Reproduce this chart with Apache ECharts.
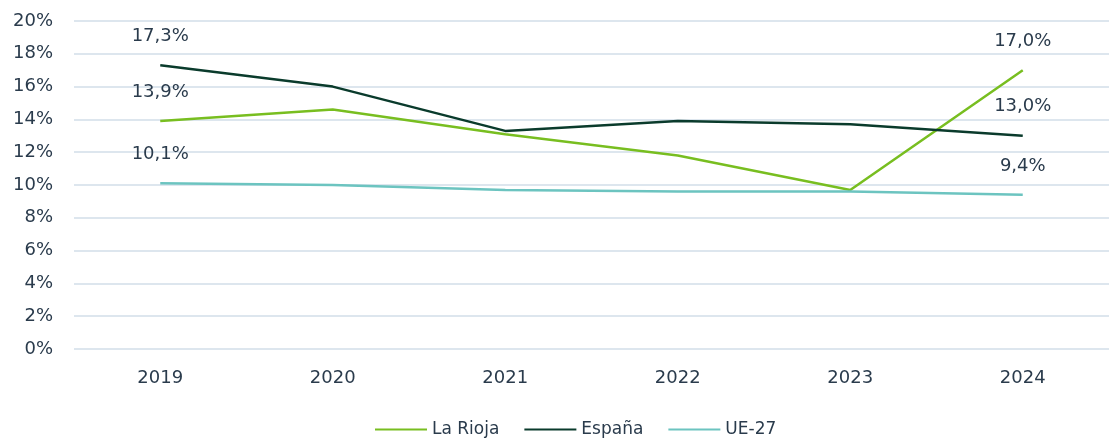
<!DOCTYPE html>
<html>
<head>
<meta charset="utf-8">
<script src="https://cdn.jsdelivr.net/npm/echarts@6/dist/echarts.min.js"></script>
<style>
  html, body { margin: 0; padding: 0; background: #fff; }
  #chart { width: 1109px; height: 439px; }
</style>
</head>
<body>
<div id="chart"></div>
<script>
var years = ['2019', '2020', '2021', '2022', '2023', '2024'];
var laRioja = [13.9, 14.6, 13.1, 11.8, 9.7, 17.0];
var espana = [17.3, 16.0, 13.3, 13.9, 13.7, 13.0];
var ue27 = [10.1, 10.0, 9.7, 9.6, 9.6, 9.4];
var yTicks = [0, 2, 4, 6, 8, 10, 12, 14, 16, 18, 20];

var textColor = '#2a3b4c';
var fontName = 'DejaVu Sans';

function fmt(v) {
  return v.toFixed(1).replace('.', ',') + '%';
}

// solo se etiquetan el primer y el ultimo punto
function endLabels(arr) {
  return arr.map(function (v, i) {
    var item = { value: v };
    if (i === 0 || i === arr.length - 1) {
      item.label = { show: true };
    }
    return item;
  });
}

function makeSeries(name, arr, color) {
  return {
    name: name,
    type: 'line',
    data: endLabels(arr),
    symbol: 'circle',
    symbolSize: 0,
    showSymbol: true,
    lineStyle: { color: color, width: 2.5 },
    itemStyle: { color: color },
    label: {
      show: false,
      position: 'top',
      distance: 20,
      color: textColor,
      fontFamily: fontName,
      fontSize: 18,
      formatter: function (p) { return fmt(p.value); }
    }
  };
}

var myChart = echarts.init(document.getElementById('chart'));
var option = {
  animation: false,
  grid: { left: 74, right: -10, top: 21, bottom: 90 },
  legend: {
    top: 416,
    left: 370,
    icon: 'rect',
    itemWidth: 52,
    itemHeight: 2,
    itemGap: 25,
    textStyle: { color: textColor, fontFamily: fontName, fontSize: 17 },
    data: ['La Rioja', 'España', 'UE-27']
  },
  xAxis: {
    type: 'category',
    data: years,
    boundaryGap: true,
    axisLine: { show: false },
    axisTick: { show: false },
    axisLabel: { color: textColor, fontFamily: fontName, fontSize: 18, margin: 20 },
    splitLine: { show: false }
  },
  yAxis: {
    type: 'value',
    min: yTicks[0],
    max: yTicks[yTicks.length - 1],
    interval: yTicks[1] - yTicks[0],
    axisLine: { show: false },
    axisTick: { show: false },
    axisLabel: {
      color: textColor, fontFamily: fontName, fontSize: 18, margin: 21,
      formatter: '{value}%'
    },
    splitLine: { lineStyle: { color: '#dde6ee', width: 2 } }
  },
  series: [
    makeSeries('La Rioja', laRioja, '#78be20'),
    makeSeries('España', espana, '#0a3b2c'),
    makeSeries('UE-27', ue27, '#6cc4c0')
  ]
};
myChart.setOption(option);
window.addEventListener('resize', function () { myChart.resize(); });
</script>
</body>
</html>
